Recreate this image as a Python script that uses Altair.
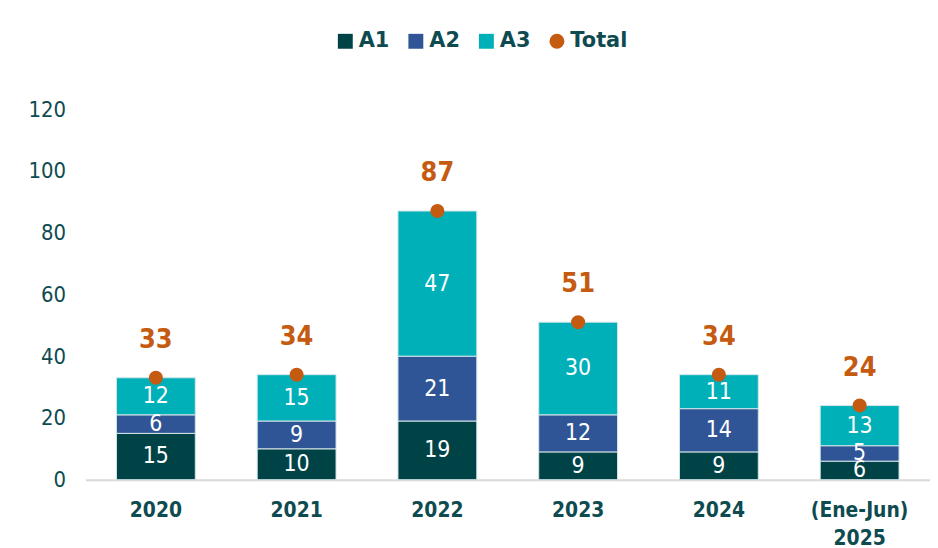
import altair as alt
import pandas as pd

years = ["2020", "2021", "2022", "2023", "2024", "(Ene-Jun) 2025"]
series = ["A1", "A2", "A3"]
a1 = [15, 10, 19, 9, 9, 6]
a2 = [6, 9, 21, 12, 14, 5]
a3 = [12, 15, 47, 30, 11, 13]
total = [33, 34, 87, 51, 34, 24]
y_ticks = [0, 20, 40, 60, 80, 100, 120]

colors = ["#004347", "#2F5597", "#00B0B9"]
total_color = "#C55A11"
text_color = "#0E4B50"
font = "DejaVu Sans Condensed, DejaVu Sans, sans-serif"
legend_font = "DejaVu Sans, sans-serif"

rows = []
for i, yr in enumerate(years):
    for k, (s, vals) in enumerate(zip(series, [a1, a2, a3])):
        rows.append({"year": yr, "series": s, "value": vals[i], "order": k})
df = pd.DataFrame(rows)
tot = pd.DataFrame({"year": years, "series": ["Total"] * len(years), "value": total})

legend_domain = series + ["Total"]

x = alt.X(
    "year:N",
    sort=years,
    title=None,
    scale=alt.Scale(paddingInner=0.44, paddingOuter=0.22),
    axis=alt.Axis(
        labelAngle=0,
        labelFont=font,
        labelFontSize=21,
        labelFontWeight="bold",
        labelColor=text_color,
        domainColor="#D9D9D9",
        domainWidth=2,
        ticks=False,
        labelPadding=20,
        labelLineHeight=28,
        labelExpr="datum.value == '(Ene-Jun) 2025' ? ['(Ene-Jun)', '2025'] : datum.label",
    ),
)

yscale = alt.Scale(domain=[0, 120], nice=False)
yaxis = alt.Axis(
    values=y_ticks,
    title=None,
    grid=False,
    domain=False,
    ticks=False,
    labelFont=font,
    labelFontSize=22,
    labelColor=text_color,
    labelPadding=20,
)

legend_kw = dict(
    title=None,
    orient="none",
    direction="horizontal",
    legendX=251,
    legendY=-79,
    labelFont=legend_font,
    labelFontSize=21,
    labelFontWeight="bold",
    labelColor=text_color,
    symbolSize=225,
    symbolStrokeWidth=0,
    labelOffset=3,
    columnPadding=16,
)

color = alt.Color(
    "series:N",
    scale=alt.Scale(domain=legend_domain, range=colors + [total_color]),
    legend=alt.Legend(**legend_kw),
)
shape = alt.Shape(
    "series:N",
    scale=alt.Scale(domain=legend_domain, range=["square", "square", "square", "circle"]),
    legend=alt.Legend(**legend_kw),
)

bars = alt.Chart(df).mark_bar(stroke="#D5E6E8", strokeWidth=1).encode(
    x=x,
    y=alt.Y("value:Q", stack="zero", scale=yscale, axis=yaxis),
    color=color,
    order=alt.Order("order:Q"),
)

seg_text = (
    alt.Chart(df)
    .transform_stack(stack="value", groupby=["year"], sort=[alt.SortField("order")], as_=["y0", "y1"])
    .transform_calculate(mid="(datum.y0 + datum.y1) / 2")
    .mark_text(font=font, fontSize=23, color="white", baseline="middle")
    .encode(x=alt.X("year:N", sort=years), y=alt.Y("mid:Q", scale=yscale), text="value:Q")
)

points = alt.Chart(tot).mark_point(filled=True, size=200, opacity=1).encode(
    x=alt.X("year:N", sort=years),
    y=alt.Y("value:Q", scale=yscale),
    color=color,
    shape=shape,
)

tot_text = alt.Chart(tot).mark_text(
    font=font, fontSize=27, fontWeight="bold", color=total_color, baseline="middle", dy=-38
).encode(x=alt.X("year:N", sort=years), y=alt.Y("value:Q", scale=yscale), text="value:Q")

chart = (
    alt.layer(bars, seg_text, points, tot_text)
    .properties(
        width=850,
        height=373,
        autosize=alt.AutoSizeParams(type="none"),
        padding={"left": 78, "top": 100, "right": 0, "bottom": 67},
    )
    .configure(background="white", view=alt.ViewConfig(stroke=None))
)

chart.save("out.html", embed_options={"renderer": "svg", "actions": False})
